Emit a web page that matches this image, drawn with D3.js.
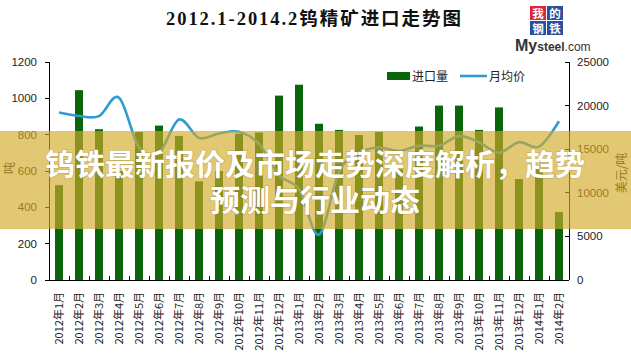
<!DOCTYPE html>
<html><head><meta charset="utf-8">
<script src="https://cdn.jsdelivr.net/npm/d3@7"></script>
<style>body{margin:0;background:#fff;} svg{display:block;}</style>
</head><body>
<svg id="c" width="631" height="361"></svg>
<script>
const months = ["2012年1月","2012年2月","2012年3月","2012年4月","2012年5月","2012年6月","2012年7月","2012年8月","2012年9月","2012年10月","2012年11月","2012年12月","2013年1月","2013年2月","2013年3月","2013年4月","2013年5月","2013年6月","2013年7月","2013年8月","2013年9月","2013年10月","2013年11月","2013年12月","2014年1月","2014年2月"];
const importVolume = [522,1045,830,600,815,850,793,543,600,805,812,1015,1075,860,826,798,816,610,845,960,960,826,950,556,610,374];
const avgPrice = [19200,18800,18800,20900,15200,14600,18400,16300,16800,17000,15600,12000,10400,5200,12400,14600,15200,14800,15400,15400,16500,15800,14600,15800,15300,18200];
const leftTicks = [0,200,400,600,800,1000,1200];
const rightTicks = [0,5000,10000,15000,20000,25000];
const titleText = "2012.1-2014.2钨精矿进口走势图";
const legendLabels = ["进口量","月均价"];
const bannerLines = ["钨铁最新报价及市场走势深度解析，趋势","预测与行业动态"];

const svg = d3.select("#c");
const L = 49, R = 569, T = 62, B = 280;
const barColor = "#0b650b", lineColor = "#2f9bd0";
const numFont = "'Liberation Sans', Arial, sans-serif";
const cjk = "'Noto Sans CJK SC', sans-serif";

const x = d3.scaleBand().domain(months).range([L, R]).paddingInner(0.6).paddingOuter(0.3);
const yL = d3.scaleLinear().domain([0,1200]).range([B, T]);
const yR = d3.scaleLinear().domain([0,25000]).range([B, T]);

// title
svg.append("text").attr("x", 166).attr("y", 25)
  .attr("font-family","'Liberation Serif','Noto Sans CJK SC',serif").attr("font-weight","bold")
  .attr("font-size",18.5).attr("fill","#111")
  .attr("textLength",295).attr("lengthAdjust","spacing").text(titleText);

// logo
const logo = svg.append("g");
const cells = [{t:"我",x:530,y:6,bg:"#d8283a",fg:"#fff"},{t:"的",x:547,y:6,bg:"#2a4f9c",fg:"#fff"},
               {t:"钢",x:530,y:21,bg:"#2a4f9c",fg:"#fff"},{t:"铁",x:547,y:21,bg:"#2a4f9c",fg:"#fff"}];
cells.forEach(c=>{
  logo.append("rect").attr("x",c.x).attr("y",c.y).attr("width",16).attr("height",14).attr("fill",c.bg);
  logo.append("text").attr("x",c.x+8).attr("y",c.y+11.5).attr("text-anchor","middle")
    .attr("font-family","'Noto Sans CJK SC'").attr("font-weight","bold").attr("font-size",11.5).attr("fill",c.fg).text(c.t);
});
const mt = logo.append("text").attr("x",515).attr("y",51).attr("font-family",numFont).attr("fill","#333");
mt.append("tspan").attr("font-size",16).attr("font-weight","bold").text("My");
mt.append("tspan").attr("font-size",12).attr("font-weight","bold").text("steel");
mt.append("tspan").attr("font-size",12).text(".com");

// bars
svg.append("g").selectAll("rect").data(months).join("rect")
  .attr("x", d=>x(d)).attr("width", x.bandwidth())
  .attr("y", (d,i)=>yL(importVolume[i])).attr("height",(d,i)=>B - yL(importVolume[i]))
  .attr("fill", barColor);

// line
const line = d3.line().x((d,i)=>x(months[i]) + x.bandwidth()/2).y(d=>yR(d)).curve(d3.curveCatmullRom.alpha(0));
svg.append("path").datum(avgPrice).attr("d", line).attr("fill","none")
  .attr("stroke", lineColor).attr("stroke-width",2.6);

// axes
const axG = svg.append("g").attr("stroke","#000").attr("stroke-width",1).attr("shape-rendering","crispEdges");
axG.append("line").attr("x1",L).attr("x2",L).attr("y1",T).attr("y2",B);
axG.append("line").attr("x1",R).attr("x2",R).attr("y1",T).attr("y2",B);
axG.append("line").attr("x1",L).attr("x2",R).attr("y1",B).attr("y2",B);
leftTicks.forEach(v=>axG.append("line").attr("x1",L-4).attr("x2",L).attr("y1",yL(v)).attr("y2",yL(v)));
rightTicks.forEach(v=>axG.append("line").attr("x1",R-4).attr("x2",R).attr("y1",yR(v)).attr("y2",yR(v)));
months.forEach((m,i)=>{ const xx = x(m) - x.step()*x.paddingInner()/2 + x.step(); if (i<months.length-1) axG.append("line").attr("x1",xx).attr("x2",xx).attr("y1",B-4).attr("y2",B); });

svg.append("g").selectAll("text").data(leftTicks).join("text")
  .attr("x", 37).attr("y", d=>yL(d)+4).attr("text-anchor","end")
  .attr("font-family",numFont).attr("font-size",11.5).attr("fill","#222").text(d=>d);
svg.append("g").selectAll("text").data(rightTicks).join("text")
  .attr("x", 577).attr("y", d=>yR(d)+4).attr("text-anchor","start")
  .attr("font-family",numFont).attr("font-size",11.5).attr("fill","#222").text(d=>d);

svg.append("g").selectAll("text").data(months).join("text")
  .attr("transform", d=>`translate(${x(d)+x.bandwidth()/2+4},292) rotate(-90)`)
  .attr("text-anchor","end").attr("font-family",cjk).attr("font-size",11).attr("fill","#222").text(d=>d);

svg.append("text").attr("transform","translate(14,168) rotate(-90)").attr("text-anchor","middle")
  .attr("font-family",cjk).attr("font-size",12).attr("fill","#222").text("吨");
svg.append("text").attr("transform","translate(626,173) rotate(-90)").attr("text-anchor","middle")
  .attr("font-family",cjk).attr("font-size",12).attr("fill","#222").text("美元/吨");

// legend
svg.append("rect").attr("x",387).attr("y",72).attr("width",23).attr("height",8).attr("fill",barColor);
svg.append("text").attr("x",412).attr("y",81).attr("font-family",cjk).attr("font-size",12).attr("fill","#222").text(legendLabels[0]);
svg.append("line").attr("x1",460).attr("x2",487).attr("y1",76).attr("y2",76).attr("stroke",lineColor).attr("stroke-width",2.6);
svg.append("text").attr("x",489).attr("y",81).attr("font-family",cjk).attr("font-size",12).attr("fill","#222").text(legendLabels[1]);

// banner overlay
svg.append("rect").attr("x",0).attr("y",131).attr("width",631).attr("height",98)
  .attr("fill","rgb(210,170,40)").attr("fill-opacity",0.65);
svg.append("g").selectAll("text").data(bannerLines).join("text")
  .attr("x",315).attr("y",(d,i)=>175 + i*36).attr("text-anchor","middle")
  .attr("font-family",cjk).attr("font-weight","bold").attr("font-size",30).attr("fill","#fff")
  .style("paint-order","stroke").attr("stroke","rgba(120,100,40,0.25)").attr("stroke-width",1.5)
  .text(d=>d);
</script>
</body></html>
